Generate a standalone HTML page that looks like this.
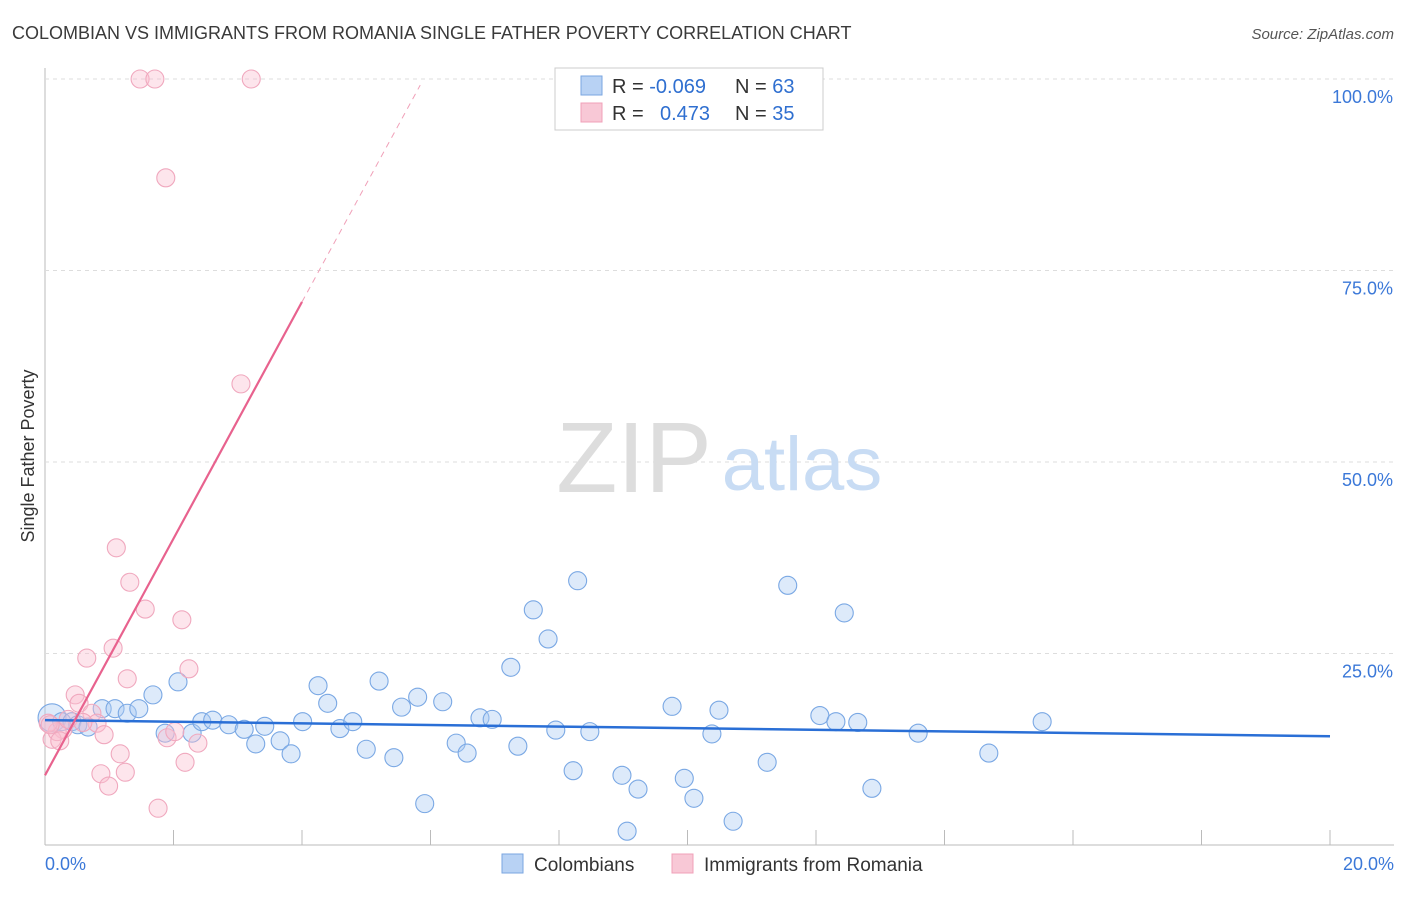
<!DOCTYPE html>
<html><head><meta charset="utf-8"><style>
body{margin:0;background:#fff;font-family:"Liberation Sans",sans-serif}
svg text{font-family:"Liberation Sans",sans-serif}
</style></head><body>
<svg width="1406" height="892">
<text x="12" y="39" font-size="18" fill="#3a3a3a">COLOMBIAN VS IMMIGRANTS FROM ROMANIA SINGLE FATHER POVERTY CORRELATION CHART</text>
<text x="1394" y="39" font-size="15" fill="#555" font-style="italic" text-anchor="end">Source: ZipAtlas.com</text>
<g id="grid"></g>
<text x="634" y="492" font-size="100" fill="#ddd" font-family="Liberation Serif" text-anchor="middle">ZIP</text>
<text x="802" y="490" font-size="76" fill="#c8dcf4" text-anchor="middle">atlas</text>
<text x="34" y="456" font-size="18" fill="#333" text-anchor="middle" transform="rotate(-90 34 456)">Single Father Poverty</text>
<g id="pts"></g>
<g id="lines"></g>
<rect x="555" y="68" width="268" height="62" fill="#fff" stroke="#ccc"/>
<rect x="581" y="76" width="21" height="19" fill="#b8d2f4" stroke="#7aa6e0"/>
<rect x="581" y="103" width="21" height="19" fill="#f8c8d6" stroke="#f0a0b8"/>
<text x="612" y="93" font-size="20" fill="#333">R = <tspan fill="#2f6fd0">-0.069</tspan><tspan x="735">N = </tspan><tspan fill="#2f6fd0">63</tspan></text>
<text x="612" y="120" font-size="20" fill="#333">R = <tspan x="660" fill="#2f6fd0">0.473</tspan><tspan x="735">N = </tspan><tspan fill="#2f6fd0">35</tspan></text>
<rect x="502" y="854" width="21" height="19" fill="#b8d2f4" stroke="#7aa6e0"/>
<text x="534" y="871" font-size="19" fill="#333">Colombians</text>
<rect x="672" y="854" width="21" height="19" fill="#f8c8d6" stroke="#f0a0b8"/>
<text x="704" y="871" font-size="19" fill="#333">Immigrants from Romania</text>
</svg>
<script>
const yTicks=[25,50,75,100];
const yTickLabels=["25.0%","50.0%","75.0%","100.0%"];
const xTickLabels=["0.0%","20.0%"];
const blueX=[0.11,0.26,0.42,0.51,0.67,0.89,1.09,1.28,1.46,1.68,1.87,2.07,2.29,2.44,2.61,2.86,3.1,3.28,3.42,3.66,3.83,4.01,4.25,4.4,4.59,4.79,5.0,5.2,5.43,5.55,5.8,5.91,6.19,6.4,6.57,6.77,6.96,7.25,7.36,7.6,7.83,7.95,8.22,8.29,8.48,8.98,9.06,9.23,9.76,9.95,10.1,10.38,10.49,10.71,11.24,11.56,12.06,12.31,12.44,12.65,12.87,13.59,14.69,15.52];
const blueY=[16.6,16.1,16.1,15.7,15.4,17.8,17.8,17.2,17.8,19.6,14.6,21.3,14.6,16.1,16.3,15.7,15.1,13.2,15.5,13.6,11.9,16.1,20.8,18.5,15.2,16.1,12.5,21.4,11.4,18.0,19.3,5.4,18.7,13.3,12.0,16.6,16.4,23.2,12.9,30.7,26.9,15.0,9.7,34.5,14.8,9.1,1.8,7.3,18.1,8.7,6.1,14.5,17.6,3.1,10.8,33.9,16.9,16.1,30.3,16.0,7.4,14.6,12.0,16.1];
const pinkX=[1.48,1.71,3.21,1.88,3.05,1.11,1.32,1.56,2.13,1.06,0.65,2.24,1.28,0.47,0.53,0.73,0.81,0.28,0.11,0.19,0.05,0.36,0.92,1.9,2.02,2.38,1.17,2.18,0.87,1.25,0.99,1.76,0.23,0.59,0.08];
const pinkY=[100,100,100,87.1,60.2,38.8,34.3,30.8,29.4,25.7,24.4,23.0,21.7,19.6,18.5,17.2,15.9,15.1,13.8,14.8,15.9,16.4,14.4,14.0,14.8,13.3,11.9,10.8,9.3,9.5,7.7,4.8,13.6,16.0,15.7];
const blueTrend=[[0,16.3],[20,14.2]];
const pinkTrendSolid=[[0,9.1],[4,70.9]];
const pinkTrendDash=[[4,70.9],[5.84,99.2]];
const X=v=>45+v/20*1285, Y=v=>845-v/100*766;
const NS="http://www.w3.org/2000/svg";
function mk(t,a,p){const e=document.createElementNS(NS,t);for(const k in a)e.setAttribute(k,a[k]);p.appendChild(e);return e;}
const g=document.getElementById('grid');
mk('line',{x1:45,y1:68,x2:45,y2:845,stroke:'#bbb'},g);
mk('line',{x1:45,y1:845,x2:1394,y2:845,stroke:'#bbb'},g);
yTicks.forEach((t,i)=>{
 const l=mk('line',{x1:45,y1:Y(t),x2:1394,y2:Y(t),stroke:'#ddd','stroke-dasharray':'4,4'},g);
 
 
 const tx=mk('text',{x:1393,y:Y(t)+24,'font-size':18,fill:'#3b78d8','text-anchor':'end'},g);tx.textContent=yTickLabels[i];
 
 
});
for(let i=1;i<=10;i++){const l=mk('line',{x1:X(i*2),y1:830,x2:X(i*2),y2:845,stroke:'#bbb'},g);
 
 }
[[0,'start',45],[20,'end',1394]].forEach((d,i)=>{const tx=mk('text',{x:d[2],y:870,'font-size':18,fill:'#3b78d8','text-anchor':d[1]},g);tx.textContent=xTickLabels[i];
 
 });
const p=document.getElementById('pts');
blueX.forEach((x,i)=>{const c=mk('circle',{cx:X(x),cy:Y(blueY[i]),r:i==0?14:9,fill:'rgba(170,202,242,0.4)',stroke:'#7aa8e4','stroke-width':1.1},p);
 
 });
pinkX.forEach((x,i)=>{const c=mk('circle',{cx:X(x),cy:Y(pinkY[i]),r:9,fill:'rgba(250,190,208,0.4)',stroke:'#f0a8be','stroke-width':1.1},p);
 
 });
const L=document.getElementById('lines');
let e=mk('line',{x1:X(blueTrend[0][0]),y1:Y(blueTrend[0][1]),x2:X(blueTrend[1][0]),y2:Y(blueTrend[1][1]),stroke:'#2a6fd6','stroke-width':2.5},L);


e=mk('line',{x1:X(pinkTrendSolid[0][0]),y1:Y(pinkTrendSolid[0][1]),x2:X(pinkTrendSolid[1][0]),y2:Y(pinkTrendSolid[1][1]),stroke:'#e8628e','stroke-width':2.2},L);


e=mk('line',{x1:X(pinkTrendDash[0][0]),y1:Y(pinkTrendDash[0][1]),x2:X(pinkTrendDash[1][0]),y2:Y(pinkTrendDash[1][1]),stroke:'#f0a0b8','stroke-width':1,'stroke-dasharray':'6,5'},L);


</script>
</body></html>
